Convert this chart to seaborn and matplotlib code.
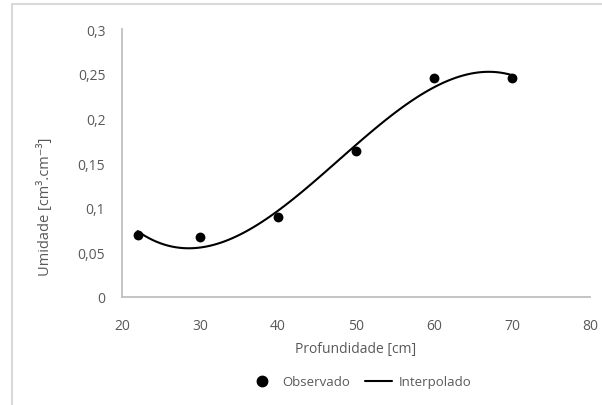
import matplotlib
matplotlib.use("Agg")
import matplotlib.pyplot as plt
import seaborn as sns
import pandas as pd
from matplotlib.lines import Line2D

# Soil moisture profile: observed values by depth
profundidade = [22, 30, 40, 50, 60, 70]
umidade = [0.069, 0.067, 0.090, 0.163, 0.245, 0.245]

x_ticks = [20, 30, 40, 50, 60, 70, 80]
y_ticks = [0, 0.05, 0.1, 0.15, 0.2, 0.25, 0.3]
y_tick_labels = ["0", "0,05", "0,1", "0,15", "0,2", "0,25", "0,3"]

df = pd.DataFrame({"prof": profundidade, "umid": umidade})

sns.set_theme(style="white")
plt.rcParams["font.family"] = ["Open Sans", "DejaVu Sans"]

W, H = 602, 406
fig = plt.figure(figsize=(W / 100, H / 100), dpi=100)
ax = fig.add_axes([122 / W, 1 - 298 / H, (590 - 122) / W, (298 - 30) / H])

# Third-order trend line through the observations
sns.regplot(data=df, x="prof", y="umid", order=3, ci=None, scatter=False,
            truncate=True, line_kws=dict(color="black", lw=1.5), ax=ax)
sns.scatterplot(data=df, x="prof", y="umid", color="black", s=50,
                edgecolor="black", linewidth=0, zorder=5, ax=ax)

ax.set_xlim(20, 80)
ax.set_ylim(0, 0.3)
ax.set_xticks(x_ticks)
ax.set_yticks(y_ticks)
ax.set_yticklabels(y_tick_labels)

grey_txt = "#595959"
ax.tick_params(axis="both", length=0, labelsize=10, labelcolor=grey_txt)
ax.tick_params(axis="x", pad=15)
ax.tick_params(axis="y", pad=12)

for side in ["top", "right"]:
    ax.spines[side].set_visible(False)
for side in ["left", "bottom"]:
    ax.spines[side].set_color("#bfbfbf")
    ax.spines[side].set_linewidth(1.3)

ax.set_xlabel("Profundidade [cm]", fontsize=10, color=grey_txt, labelpad=6)
ax.set_ylabel("")
fig.text(45 / W, 1 - 207 / H, "Umidade [cm³.cm⁻³]", rotation=90,
         ha="center", va="center", fontsize=10.5, color=grey_txt)

handles = [
    Line2D([], [], marker="o", color="black", linestyle="none", markersize=7.5),
    Line2D([], [], color="black", lw=1.5),
]
fig.legend(handles, ["Observado", "Interpolado"], loc="center",
           bbox_to_anchor=(360 / W, 1 - 383 / H), ncol=2, frameon=False,
           fontsize=9.5, labelcolor=grey_txt, handlelength=2.0,
           handletextpad=0.5, columnspacing=1.2)

# Outer chart frame (top and left edges)
frame = "#d9d9d9"
fig.add_artist(Line2D([12 / W, 1], [1 - 5 / H, 1 - 5 / H], color=frame, lw=1.5,
                      transform=fig.transFigure))
fig.add_artist(Line2D([12 / W, 12 / W], [0, 1 - 5 / H], color=frame, lw=1.5,
                      transform=fig.transFigure))

fig.savefig("out.png", dpi=100, facecolor="white")
